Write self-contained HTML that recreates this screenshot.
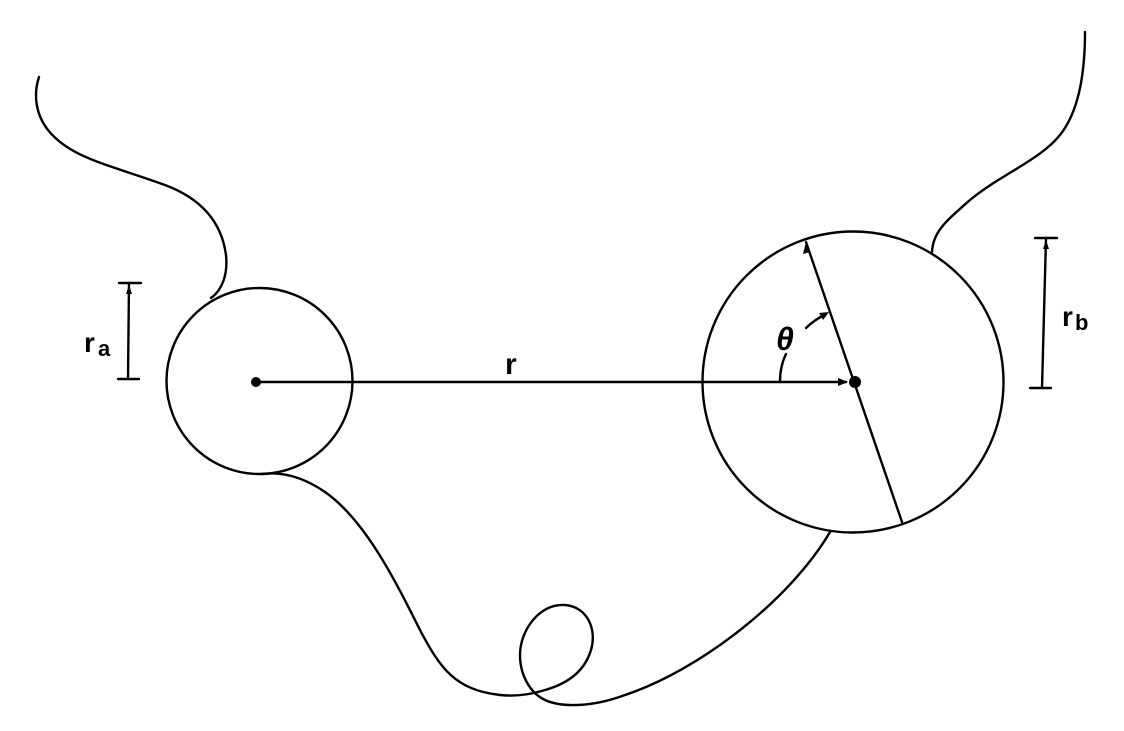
<!DOCTYPE html>
<html><head><meta charset="utf-8"><style>
html,body{margin:0;padding:0;background:#fff;}
svg{display:block;}
text{font-family:"Liberation Sans",sans-serif;font-weight:bold;fill:#000;}
</style></head><body>
<svg width="1124" height="731" viewBox="0 0 1124 731" xmlns="http://www.w3.org/2000/svg">
<g fill="none" stroke="#000" stroke-width="2.4" stroke-linecap="round">
<!-- circles -->
<circle cx="259.5" cy="381" r="93"/>
<circle cx="853" cy="382" r="150.5"/>
<!-- left curve -->
<path d="M39,77 C33,95 36,115 48,130 C70,158 110,165 165,185 C205,200 222,225 226,255 C228,275 222,290 211,298"/>
<!-- right curve -->
<path d="M1085,32 C1085,70 1080,110 1060,135 C1040,160 1000,175 970,200 C945,222 933,232 932,252"/>
<!-- bottom curve -->
<path d="M262,474 C280,472 300,475 325,492 C365,520 395,580 420,630 C440,668 455,690 500,695 C520,697 535,693 545,690 C570,683 585,670 591,650 C597,630 588,607 565,605 C540,603 520,630 520,655 C520,675 530,693 545,700 C560,707 590,708 625,695 C700,670 790,600 830,532"/>
<!-- horizontal r line -->
<line x1="256" y1="382" x2="846" y2="382"/>
<!-- diameter -->
<line x1="806" y1="242" x2="902" y2="522"/>
<!-- theta arc -->
<path d="M780,382 C780,370 782,362 786,354"/>
<!-- theta pointer -->
<path d="M806,328 C812,322 818,318 826,314"/>
<!-- r_a bar -->
<line x1="129" y1="283" x2="128" y2="379"/>
<line x1="119" y1="283" x2="141" y2="283"/>
<line x1="118" y1="379" x2="139" y2="379"/>
<!-- r_b bar -->
<line x1="1046" y1="238" x2="1042" y2="388"/>
<line x1="1035" y1="238" x2="1057" y2="238"/>
<line x1="1030" y1="388" x2="1051" y2="388"/>
</g>
<g fill="#000">
<circle cx="256" cy="382" r="5"/>
<circle cx="855" cy="382" r="6"/>
<polygon points="838,378 848,382 838,386"/>
<polygon points="806,242 803,254 810,252"/>
<polygon points="829,312 819,313 823,320"/>
<polygon points="129,285 126,294 132,294"/>
<polygon points="1046,240 1043,249 1049,249"/>
</g>
<text x="505" y="374" font-size="30">r</text>
<text x="776" y="350" font-size="32" font-style="italic" font-weight="normal" font-family="Liberation Serif">θ</text>
<text x="84" y="352" font-size="28">r</text>
<text x="98" y="356" font-size="22">a</text>
<text x="1062" y="326" font-size="28">r</text>
<text x="1075" y="330" font-size="22">b</text>
</svg>
</body></html>
